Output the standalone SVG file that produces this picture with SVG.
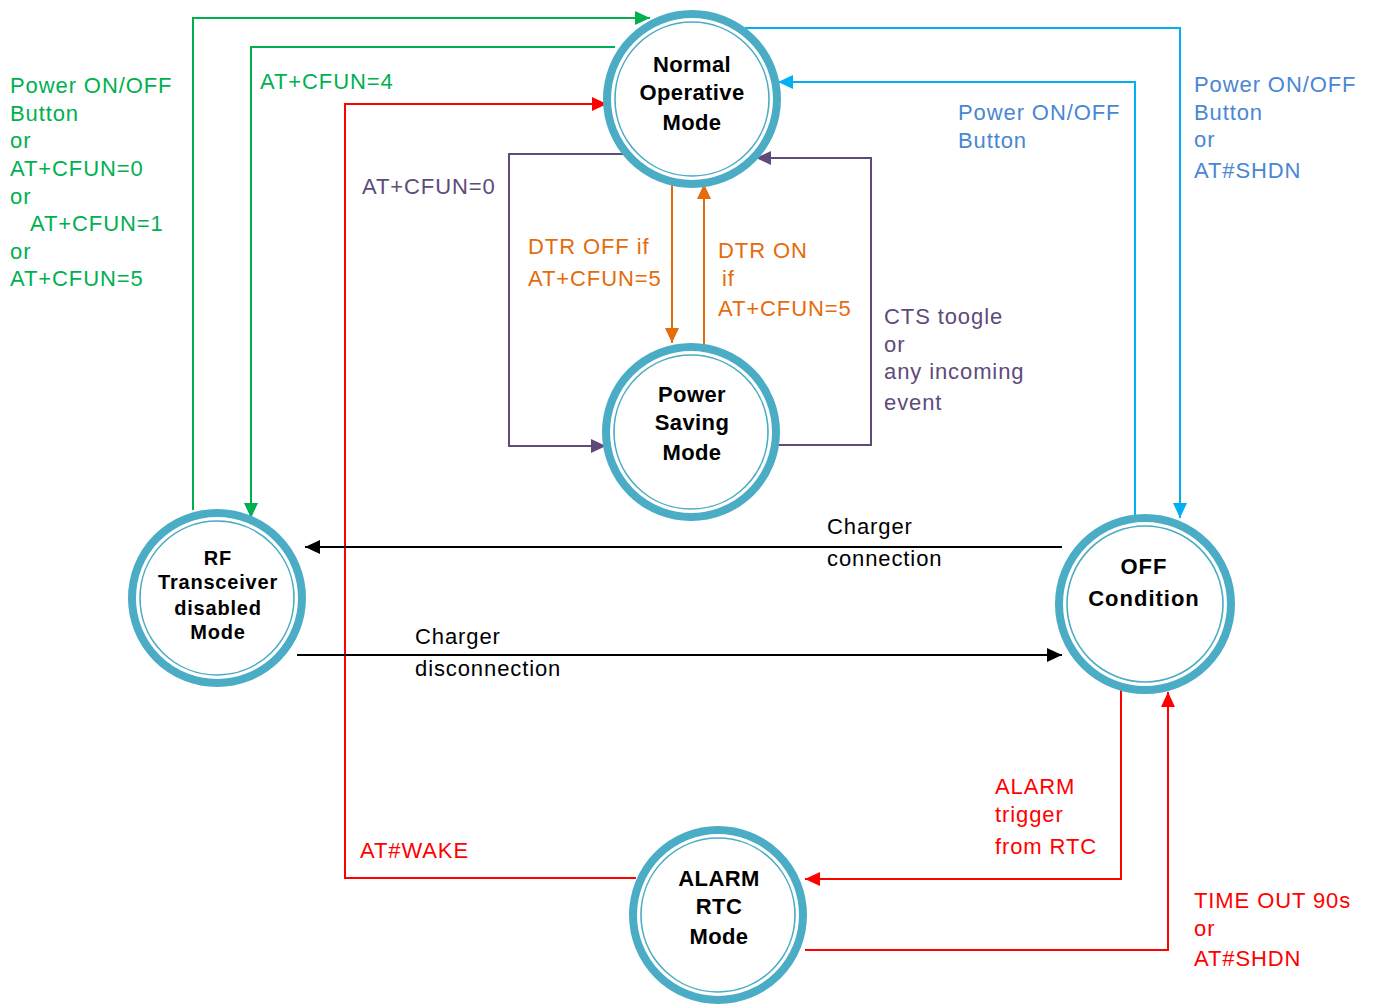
<svg xmlns="http://www.w3.org/2000/svg" width="1375" height="1005" viewBox="0 0 1375 1005">
<style>
.ring{fill:#fff;stroke:#4bacc6;stroke-width:8}
.inner{fill:none;stroke:#4bacc6;stroke-width:1.6}
.nl{font-family:"Liberation Sans",Arial,sans-serif;font-weight:bold;font-size:22px;text-anchor:middle;fill:#000;letter-spacing:0.4px}
.lb{font-family:"Liberation Sans",Arial,sans-serif;font-size:22px;letter-spacing:0.9px}
.c{fill:none;stroke-width:2}
.g{stroke:#00b050}.r{stroke:#ff0000}.cy{stroke:#00b0f0}.p{stroke:#604a7b}.o{stroke:#e46c0a}.k{stroke:#000}
</style>
<defs>
<marker id="ag" markerUnits="userSpaceOnUse" markerWidth="16" markerHeight="14" refX="15" refY="7" orient="auto"><path d="M0,0 L15,7 L0,14 z" fill="#00b050"/></marker>
<marker id="ar" markerUnits="userSpaceOnUse" markerWidth="16" markerHeight="14" refX="15" refY="7" orient="auto"><path d="M0,0 L15,7 L0,14 z" fill="#ff0000"/></marker>
<marker id="acy" markerUnits="userSpaceOnUse" markerWidth="16" markerHeight="14" refX="15" refY="7" orient="auto"><path d="M0,0 L15,7 L0,14 z" fill="#00b0f0"/></marker>
<marker id="ap" markerUnits="userSpaceOnUse" markerWidth="16" markerHeight="14" refX="15" refY="7" orient="auto"><path d="M0,0 L15,7 L0,14 z" fill="#604a7b"/></marker>
<marker id="ao" markerUnits="userSpaceOnUse" markerWidth="16" markerHeight="14" refX="15" refY="7" orient="auto"><path d="M0,0 L15,7 L0,14 z" fill="#e46c0a"/></marker>
<marker id="ak" markerUnits="userSpaceOnUse" markerWidth="16" markerHeight="14" refX="15" refY="7" orient="auto"><path d="M0,0 L15,7 L0,14 z" fill="#000"/></marker>
</defs>
<rect width="1375" height="1005" fill="#fff"/>
<g id="connectors">
<path class="c g" d="M193,510 V18 H650" marker-end="url(#ag)"/>
<path class="c g" d="M615,47 H251 V518" marker-end="url(#ag)"/>
<path class="c r" d="M636,878 H345 V104 H607" marker-end="url(#ar)"/>
<path class="c cy" d="M745,28 H1180 V518" marker-end="url(#acy)"/>
<path class="c cy" d="M1135,516 V82 H778" marker-end="url(#acy)"/>
<path class="c p" d="M623,154 H509 V446 H606" marker-end="url(#ap)"/>
<path class="c p" d="M774,445 H871 V158 H756" marker-end="url(#ap)"/>
<path class="c o" d="M672,182 V343" marker-end="url(#ao)"/>
<path class="c o" d="M704,345 V184" marker-end="url(#ao)"/>
<path class="c k" d="M1062,547 H305" marker-end="url(#ak)"/>
<path class="c k" d="M297,655 H1062" marker-end="url(#ak)"/>
<path class="c r" d="M1121,690 V879 H805" marker-end="url(#ar)"/>
<path class="c r" d="M805,950 H1168 V692" marker-end="url(#ar)"/>
</g>
<g id="labels">
<text class="lb" fill="#00b050"><tspan x="10" y="93">Power ON/OFF</tspan><tspan x="10" y="121">Button</tspan><tspan x="10" y="148">or</tspan><tspan x="10" y="176">AT+CFUN=0</tspan><tspan x="10" y="204">or</tspan><tspan x="30" y="231">AT+CFUN=1</tspan><tspan x="10" y="259">or</tspan><tspan x="10" y="286">AT+CFUN=5</tspan></text>
<text class="lb" fill="#00b050" x="260" y="89">AT+CFUN=4</text>
<text class="lb" fill="#604a7b" x="362" y="194">AT+CFUN=0</text>
<text class="lb" fill="#4a86d4"><tspan x="958" y="120">Power ON/OFF</tspan><tspan x="958" y="148">Button</tspan></text>
<text class="lb" fill="#4a86d4"><tspan x="1194" y="92">Power ON/OFF</tspan><tspan x="1194" y="120">Button</tspan><tspan x="1194" y="147">or</tspan><tspan x="1194" y="178">AT#SHDN</tspan></text>
<text class="lb" fill="#e46c0a"><tspan x="528" y="254">DTR OFF if</tspan><tspan x="528" y="286">AT+CFUN=5</tspan></text>
<text class="lb" fill="#e46c0a"><tspan x="718" y="258">DTR ON</tspan><tspan x="722" y="286">if</tspan><tspan x="718" y="316">AT+CFUN=5</tspan></text>
<text class="lb" fill="#604a7b"><tspan x="884" y="324">CTS toogle</tspan><tspan x="884" y="352">or</tspan><tspan x="884" y="379">any incoming</tspan><tspan x="884" y="410">event</tspan></text>
<text class="lb" fill="#000"><tspan x="827" y="534">Charger</tspan><tspan x="827" y="566">connection</tspan></text>
<text class="lb" fill="#000"><tspan x="415" y="644">Charger</tspan><tspan x="415" y="676">disconnection</tspan></text>
<text class="lb" fill="#ff0000"><tspan x="995" y="794">ALARM</tspan><tspan x="995" y="822">trigger</tspan><tspan x="995" y="854">from RTC</tspan></text>
<text class="lb" fill="#ff0000" x="360" y="858">AT#WAKE</text>
<text class="lb" fill="#ff0000"><tspan x="1194" y="908">TIME OUT 90s</tspan><tspan x="1194" y="936">or</tspan><tspan x="1194" y="966">AT#SHDN</tspan></text>
</g>
<g id="normal">
<circle class="ring" cx="692" cy="99" r="85"/><circle class="inner" cx="692" cy="99" r="77"/>
<text class="nl"><tspan x="692" y="72">Normal</tspan><tspan x="692" y="100">Operative</tspan><tspan x="692" y="130">Mode</tspan></text>
</g>
<g id="powersaving">
<circle class="ring" cx="691" cy="432" r="85"/><circle class="inner" cx="691" cy="432" r="77"/>
<text class="nl"><tspan x="692" y="402">Power</tspan><tspan x="692" y="430">Saving</tspan><tspan x="692" y="460">Mode</tspan></text>
</g>
<g id="rf">
<circle class="ring" cx="217" cy="598" r="85"/><circle class="inner" cx="217" cy="598" r="77"/>
<text class="nl" style="font-size:20px;letter-spacing:0.8px"><tspan x="218" y="565">RF</tspan><tspan x="218" y="589">Transceiver</tspan><tspan x="218" y="615">disabled</tspan><tspan x="218" y="639">Mode</tspan></text>
</g>
<g id="off">
<circle class="ring" cx="1145" cy="604" r="86"/><circle class="inner" cx="1145" cy="604" r="78"/>
<text class="nl" style="letter-spacing:1px"><tspan x="1144" y="574">OFF</tspan><tspan x="1144" y="606">Condition</tspan></text>
</g>
<g id="alarm">
<circle class="ring" cx="718" cy="915" r="85"/><circle class="inner" cx="718" cy="915" r="77"/>
<text class="nl"><tspan x="719" y="886">ALARM</tspan><tspan x="719" y="914">RTC</tspan><tspan x="719" y="944">Mode</tspan></text>
</g>
</svg>
